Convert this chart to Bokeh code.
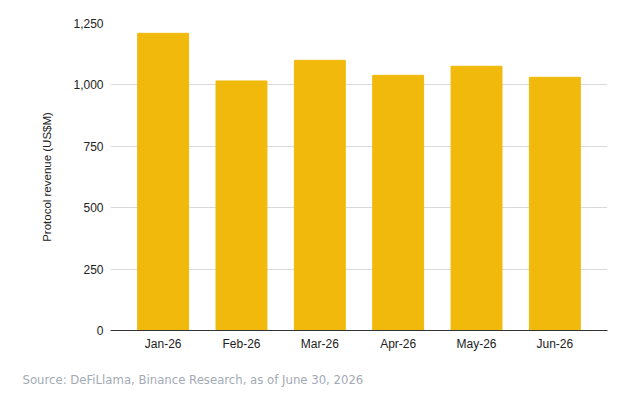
from bokeh.plotting import figure
from bokeh.models import FactorRange, Range1d, Title, NumeralTickFormatter, FixedTicker, ColumnDataSource
from bokeh.embed import file_html
from bokeh.resources import INLINE

months = ["Jan-26", "Feb-26", "Mar-26", "Apr-26", "May-26", "Jun-26"]
revenue = [1210, 1016, 1100, 1039, 1076, 1031]
y_ticks = [0, 250, 500, 750, 1000, 1250]
y_label = "Protocol revenue (US$M)"
source_note = "Source: DeFiLlama, Binance Research, as of June 30, 2026"

src = ColumnDataSource(dict(month=months, revenue=revenue))

p = figure(
    width=617, height=403,
    x_range=FactorRange(factors=months, range_padding=0.172, range_padding_units="absolute"),
    y_range=Range1d(0, 1250),
    output_backend="svg", toolbar_location=None,
    min_border_left=110, min_border_right=10, min_border_top=23, min_border_bottom=72,
)
p.outline_line_color = None
p.background_fill_color = "white"
p.border_fill_color = "white"

p.vbar(x="month", top="revenue", width=0.65, source=src,
       fill_color="#F0B90B", line_color="#F0B90B", line_width=1)

p.xgrid.grid_line_color = None
p.ygrid.grid_line_color = "#d9d9d9"
p.ygrid.grid_line_width = 1

p.yaxis.ticker = FixedTicker(ticks=y_ticks)
p.yaxis.formatter = NumeralTickFormatter(format="0,0")
p.yaxis.axis_line_color = None
p.yaxis.major_tick_line_color = None
p.yaxis.major_tick_out = 0
p.yaxis.major_tick_in = 0
p.yaxis.minor_tick_line_color = None
p.yaxis.major_label_standoff = 7
p.yaxis.major_label_text_font = "Liberation Sans"
p.yaxis.major_label_text_font_size = "12px"
p.yaxis.major_label_text_color = "#222222"
p.yaxis.axis_label = y_label
p.yaxis.axis_label_text_font = "Liberation Sans"
p.yaxis.axis_label_text_font_size = "11.5px"
p.yaxis.axis_label_text_font_style = "normal"
p.yaxis.axis_label_text_color = "#222222"
p.yaxis.axis_label_standoff = 17

p.xaxis.axis_line_color = "#333333"
p.xaxis.axis_line_width = 1
p.xaxis.major_tick_line_color = None
p.xaxis.major_tick_out = 0
p.xaxis.major_tick_in = 0
p.xaxis.minor_tick_line_color = None
p.xaxis.major_label_standoff = 6
p.xaxis.major_label_text_font = "Liberation Sans"
p.xaxis.major_label_text_font_size = "12px"
p.xaxis.major_label_text_color = "#222222"

note = Title(text=source_note, align="left", offset=-88, standoff=34,
             text_font="DejaVu Sans", text_font_size="11.7px", text_font_style="normal",
             text_color="#a3aab5")
p.add_layout(note, "below")

open("out.html", "w").write(file_html(p, INLINE))
